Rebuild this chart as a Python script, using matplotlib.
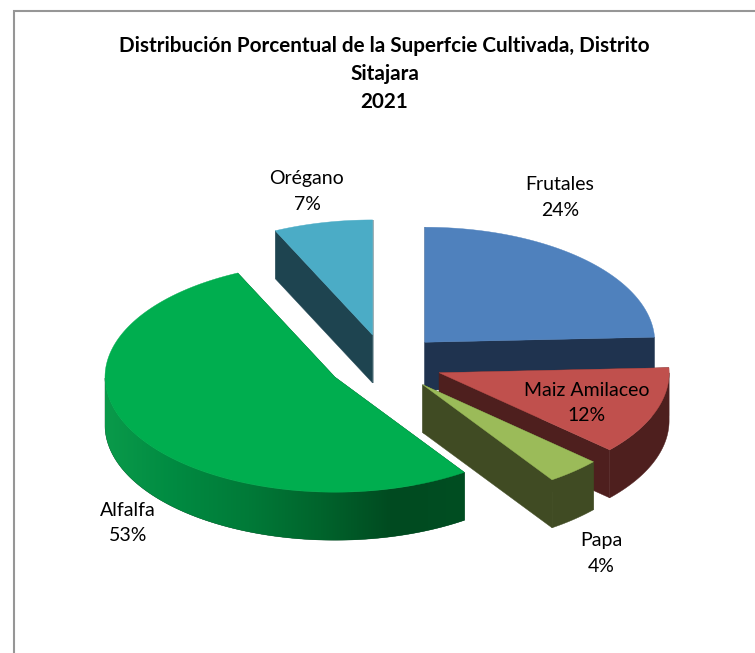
#!/usr/bin/env python
"""Exploded 3D style pie: cultivated surface by crop, Sitajara district 2021."""
import numpy as np
import matplotlib.pyplot as plt
from matplotlib.colors import LinearSegmentedColormap
from matplotlib.patches import Polygon

plt.rcParams['font.family'] = ['Lato', 'DejaVu Sans']

# Data, clockwise from 12 o'clock (labels show them rounded)
cultivos = ['Frutales', 'Maiz Amilaceo', 'Papa', 'Alfalfa', 'Orégano']
porcentajes = [24.3, 12.4, 3.8, 52.55, 6.95]
titulo = 'Distribución Porcentual de la Superfcie Cultivada, Distrito\nSitajara\n2021'

# Colours
c_top = ['#4F81BD', '#C0504D', '#9BBB59', '#00AE4F', '#4BACC6']
c_side = ['#1F334F', '#4E1F1E', '#404B23', '#004A20', '#1E4450']
alfalfa_side = LinearSegmentedColormap.from_list(
    'alfalfa', ['#0A9A4A', '#008A41', '#007A38', '#00642C', '#004A20', '#004E22'])

# Pie geometry in pixels
cx, cy = 385, 363
rx, ry = 230, 115
depth = 48
explode = 0.25

# label positions (centre of text block)
pos_labels = [(560, 197.5), (587, 403), (601, 553.5), (128, 523), (307, 191.5)]

fig = plt.figure(figsize=(7.55, 6.53), dpi=100)
ax = fig.add_axes([0, 0, 1, 1])
ax.set_xlim(0, 755)
ax.set_ylim(653, 0)
ax.axis('off')

# chart border, only left and top are visible
ax.plot([14, 14, 755], [653, 11, 11], color='#969696', lw=1.5, solid_joinstyle='miter')


def ellipse_xy(x0, y0, ang):
    return x0 + rx * np.sin(ang), y0 - ry * np.cos(ang)


fracs = np.array(porcentajes) / sum(porcentajes)
ends = np.cumsum(fracs) * 2 * np.pi
starts = ends - fracs * 2 * np.pi

# painter order: back slices first
order = [4, 0, 1, 2, 3]
z = 2
for i in order:
    a0, a1 = starts[i], ends[i]
    mid = (a0 + a1) / 2
    x0 = cx + explode * rx * np.sin(mid)
    y0 = cy - explode * ry * np.cos(mid)

    ang = np.linspace(a0, a1, 400)
    arc_x, arc_y = ellipse_xy(x0, y0, ang)

    # radial faces
    for a in (a0, a1):
        ex, ey = ellipse_xy(x0, y0, a)
        ax.add_patch(Polygon([(x0, y0), (ex, ey), (ex, ey + depth), (x0, y0 + depth)],
                             closed=True, fc=c_side[i], ec=c_side[i], lw=0.3, zorder=z))

    # outer wall, only the part that faces the viewer
    front = np.cos(ang) <= 0
    if front.any():
        wall_x, wall_y = arc_x[front], arc_y[front]
        wall = np.vstack([np.column_stack([wall_x, wall_y]),
                          np.column_stack([wall_x[::-1], wall_y[::-1] + depth])])
        patch = Polygon(wall, closed=True, fc=c_side[i], ec=c_side[i], lw=0.3, zorder=z)
        ax.add_patch(patch)

        # alfalfa wall carries a horizontal gradient
        if cultivos[i] == 'Alfalfa':
            grad = np.linspace(0, 1, 256).reshape(1, -1)
            img = ax.imshow(grad, cmap=alfalfa_side, aspect='auto', zorder=z,
                            extent=(wall_x.min(), wall_x.max(), wall_y.max() + depth, wall_y.min()))
            img.set_clip_path(patch)
            ax.set_xlim(0, 755)
            ax.set_ylim(653, 0)

    # top face
    top = np.column_stack([np.r_[x0, arc_x], np.r_[y0, arc_y]])
    ax.add_patch(Polygon(top, closed=True, fc=c_top[i], ec=c_top[i], lw=0.3, zorder=z + 0.5))
    z += 1

for cultivo, pct, (lx, ly) in zip(cultivos, porcentajes, pos_labels):
    ax.text(lx, ly, f'{cultivo}\n{pct:.0f}%', ha='center', va='center', zorder=20,
            fontsize=14, color='#000000', linespacing=1.6)

ax.text(384.5, 74, titulo, ha='center', va='center', fontsize=14.9, zorder=20,
        fontweight='bold', color='#000000', linespacing=1.48)

fig.savefig('out.png', dpi=100)
